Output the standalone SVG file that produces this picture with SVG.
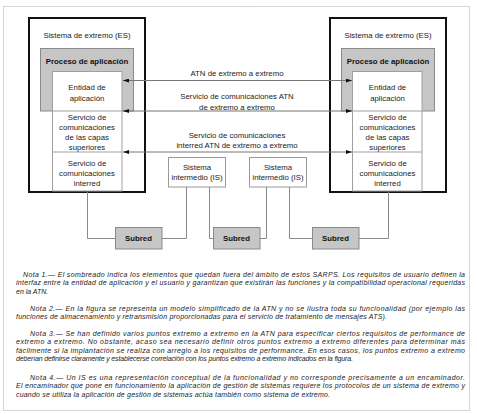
<svg xmlns="http://www.w3.org/2000/svg" width="477" height="414" viewBox="0 0 477 414">
<style>
text{font-family:"Liberation Sans",Arial,sans-serif;fill:#222}
.t{font-size:7.8px;text-anchor:middle}
.b{font-size:7.8px;font-weight:bold;text-anchor:middle;fill:#111}
.n{font-size:7px;font-style:italic;fill:#1a1a1a}
.es{fill:#fff;stroke:#111;stroke-width:2}
.gr{fill:#c6c6c6;stroke:#8a8a8a;stroke-width:1}
.col{fill:#fff;stroke:#a0a0a0;stroke-width:1}
.div{stroke:#a0a0a0;stroke-width:1;fill:none}
.box{fill:#fff;stroke:#9a9a9a;stroke-width:1}
.sub{fill:#c6c6c6;stroke:#8a8a8a;stroke-width:1}
.con{fill:none;stroke:#8a8a8a;stroke-width:1}
.arr{fill:none;stroke:#777;stroke-width:1;marker-start:url(#ah);marker-end:url(#ah)}
</style>
<defs>
<marker id="ah" viewBox="0 0 6 4" refX="6" refY="2" markerWidth="6" markerHeight="4" markerUnits="userSpaceOnUse" orient="auto-start-reverse">
<path d="M0,0 L6,2 L0,4 z" fill="#111"/>
</marker>
</defs>
<rect x="0" y="0" width="477" height="414" fill="#fff"/>
<rect x="3.5" y="6.5" width="466" height="404" fill="none" stroke="#aaa" stroke-width="1" stroke-dasharray="1 1"/>

<g id="es-left">
<rect class="es" x="29" y="18" width="116" height="174"/>
<text class="t" x="87" y="38">Sistema de extremo (ES)</text>
<rect class="gr" x="40.5" y="48.5" width="93" height="62.5"/>
<text class="b" x="87" y="64">Proceso de aplicación</text>
<rect class="col" x="52.5" y="71.5" width="69.5" height="119.5"/>
<path class="div" d="M52.5 111H122M52.5 152H122"/>
<text class="t" x="87" y="90">Entidad de</text>
<text class="t" x="87" y="100.5">aplicación</text>
<text class="t" x="87" y="120">Servicio de</text>
<text class="t" x="87" y="130">comunicaciones</text>
<text class="t" x="87" y="140">de las capas</text>
<text class="t" x="87" y="149.5">superiores</text>
<text class="t" x="87" y="166">Servicio de</text>
<text class="t" x="87" y="176">comunicaciones</text>
<text class="t" x="87" y="185.5">interred</text>
</g>

<g id="es-right">
<rect class="es" x="330" y="18" width="116" height="174"/>
<text class="t" x="388" y="38">Sistema de extremo (ES)</text>
<rect class="gr" x="341.5" y="48.5" width="93" height="62.5"/>
<text class="b" x="388" y="64">Proceso de aplicación</text>
<rect class="col" x="352.5" y="71.5" width="69.5" height="119.5"/>
<path class="div" d="M352.5 111H422M352.5 152H422"/>
<text class="t" x="387.5" y="90">Entidad de</text>
<text class="t" x="387.5" y="100.5">aplicación</text>
<text class="t" x="387.5" y="120">Servicio de</text>
<text class="t" x="387.5" y="130">comunicaciones</text>
<text class="t" x="387.5" y="140">de las capas</text>
<text class="t" x="387.5" y="149.5">superiores</text>
<text class="t" x="387.5" y="166">Servicio de</text>
<text class="t" x="387.5" y="176">comunicaciones</text>
<text class="t" x="387.5" y="185.5">interred</text>
</g>

<g id="is-left">
<rect class="box" x="168.5" y="157.5" width="57" height="29.5"/>
<text class="t" x="197" y="170">Sistema</text>
<text class="t" x="197" y="180">intermedio (IS)</text>
</g>
<g id="is-right">
<rect class="box" x="249.5" y="157.5" width="57" height="29.5"/>
<text class="t" x="278" y="170">Sistema</text>
<text class="t" x="278" y="180">intermedio (IS)</text>
</g>

<g id="subred-1">
<rect class="sub" x="115.5" y="227.5" width="46.5" height="21.5"/>
<text class="b" x="138.5" y="241">Subred</text>
</g>
<g id="subred-2">
<rect class="sub" x="213.5" y="227.5" width="46.5" height="21.5"/>
<text class="b" x="236.5" y="241">Subred</text>
</g>
<g id="subred-3">
<rect class="sub" x="312.5" y="227.5" width="46.5" height="21.5"/>
<text class="b" x="335.5" y="241">Subred</text>
</g>

<g id="connectors">
<path class="arr" d="M123 80.5H352"/>
<path class="arr" d="M123 111H352"/>
<path class="arr" d="M123 152H352"/>
<path class="con" d="M87.5 192V238.5H115.5"/>
<path class="con" d="M162 238.5H186.5V187"/>
<path class="con" d="M209.5 187V238.5H213.5"/>
<path class="con" d="M260 238.5H266.5V187"/>
<path class="con" d="M289.5 187V238.5H312.5"/>
<path class="con" d="M359 238.5H388.5V192"/>
<text class="t" x="237" y="76">ATN de extremo a extremo</text>
<text class="t" x="237" y="99">Servicio de comunicaciones ATN</text>
<text class="t" x="237" y="109.5">de extremo a extremo</text>
<text class="t" x="237" y="138">Servicio de comunicaciones</text>
<text class="t" x="237" y="148">interred ATN de extremo a extremo</text>
</g>

<g id="notes">
<text class="n" x="23" y="276.5" textLength="442" lengthAdjust="spacing">Nota 1.— El sombreado indica los elementos que quedan fuera del ámbito de estos SARPS. Los requisitos de usuario definen la</text>
<text class="n" x="16" y="285" textLength="449" lengthAdjust="spacing">interfaz entre la entidad de aplicación y el usuario y garantizan que existirán las funciones y la compatibilidad operacional requeridas</text>
<text class="n" x="16" y="293.5">en la ATN.</text>
<text class="n" x="30" y="310.5" textLength="435" lengthAdjust="spacing">Nota 2.— En la figura se representa un modelo simplificado de la ATN y no se ilustra toda su funcionalidad (por ejemplo las</text>
<text class="n" x="16" y="319" textLength="371" lengthAdjust="spacing">funciones de almacenamiento y retransmisión proporcionadas para el servicio de tratamiento de mensajes ATS).</text>
<text class="n" x="30" y="335.5" textLength="435" lengthAdjust="spacing">Nota 3.— Se han definido varios puntos extremo a extremo en la ATN para especificar ciertos requisitos de performance de</text>
<text class="n" x="16" y="344" textLength="449" lengthAdjust="spacing">extremo a extremo. No obstante, acaso sea necesario definir otros puntos extremo a extremo diferentes para determinar más</text>
<text class="n" x="16" y="352.5" textLength="449" lengthAdjust="spacing">fácilmente si la implantación se realiza con arreglo a los requisitos de performance. En esos casos, los puntos extremo a extremo</text>
<text class="n" x="16" y="361" textLength="337" lengthAdjust="spacing">deberían definirse claramente y establecerse correlación con los puntos extremo a extremo indicados en la figura.</text>
<text class="n" x="30" y="379.5" textLength="435" lengthAdjust="spacing">Nota 4.— Un IS es una representación conceptual de la funcionalidad y no corresponde precisamente a un encaminador.</text>
<text class="n" x="16" y="388" textLength="449" lengthAdjust="spacing">El encaminador que pone en funcionamiento la aplicación de gestión de sistemas requiere los protocolos de un sistema de extremo y</text>
<text class="n" x="16" y="396.5" textLength="314" lengthAdjust="spacing">cuando se utiliza la aplicación de gestión de sistemas actúa también como sistema de extremo.</text>
</g>
</svg>
